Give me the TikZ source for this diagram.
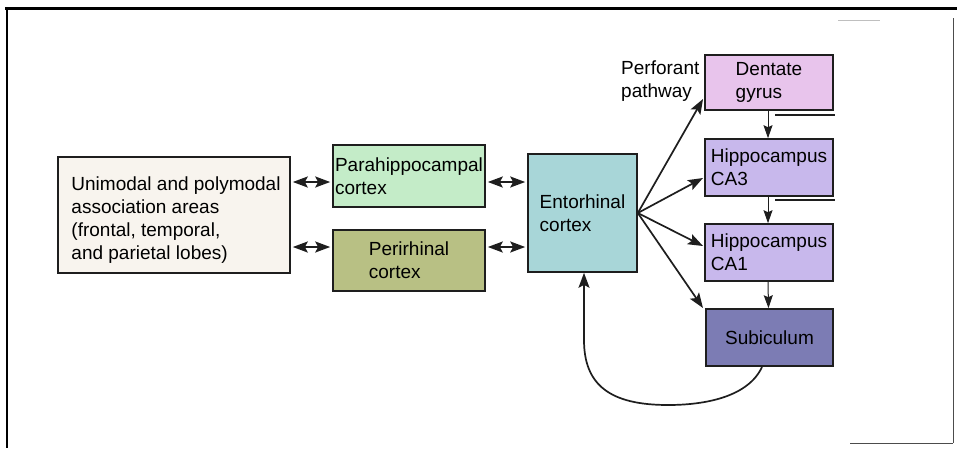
\documentclass[tikz,border=0pt]{standalone}
\usepackage{fontspec}
\setmainfont{Liberation Sans}
\usetikzlibrary{arrows.meta}
\definecolor{cUni}{HTML}{F8F4EE}
\definecolor{cPara}{HTML}{C4ECC8}
\definecolor{cPeri}{HTML}{B8C084}
\definecolor{cEnto}{HTML}{A8D6D8}
\definecolor{cDG}{HTML}{E8C4EC}
\definecolor{cCA}{HTML}{C8B8EC}
\definecolor{cSub}{HTML}{7C7CB4}
\definecolor{cLine}{HTML}{1E1E1E}
\tikzset{
  label text/.style={font=\fontsize{19}{23}\selectfont, align=left, inner sep=0pt},
  region/.style={draw=cLine, line width=1.6pt, inner sep=0pt, label text},
  dbl/.style={{Stealth[length=15pt,width=11pt,inset=3pt]}-{Stealth[length=15pt,width=11pt,inset=3pt]}, line width=2pt, cLine},
  one/.style={-{Stealth[length=15pt,width=11pt,inset=3pt]}, line width=1.7pt, cLine},
  step arrow/.style={-{Stealth[length=13pt,width=9pt,inset=2pt]}, line width=1pt, cLine},
}
\begin{document}
\begin{tikzpicture}[x=1pt,y=-1pt]
\useasboundingbox (0,0) rectangle (957,448);
\fill[white] (0,0) rectangle (957,448);

% frame
\draw[line width=3pt] (5,8) -- (957,8);
\draw[line width=2pt] (7,7) -- (7,448);
\draw[line width=0.8pt, black!70] (953,18) -- (953,443);
\draw[line width=0.8pt, black!70] (850,443) -- (953,443);
\draw[line width=1pt, black!25] (838,20) -- (880,20);

% cortical areas
\node[region, fill=cUni, minimum width=232pt, minimum height=116pt] (uni) at (174,215) {};
\node[label text] (unitext) at (176,220)
  {Unimodal and polymodal\\association areas\\(frontal, temporal,\\and parietal lobes)};
\node[region, fill=cPara, minimum width=152pt, minimum height=62pt] (para) at (409,176)
  {Parahippocampal\\cortex};
\node[region, fill=cPeri, minimum width=152pt, minimum height=61pt] (peri) at (409,260.5)
  {Perirhinal\\cortex};
\node[region, fill=cEnto, minimum width=109pt, minimum height=118pt] (ento) at (582.5,213)
  {Entorhinal\\cortex};

% hippocampal formation
\node[region, fill=cDG, minimum width=128pt, minimum height=55pt] (dg) at (769,82.5)
  {Dentate\\gyrus};
\node[region, fill=cCA, minimum width=128pt, minimum height=57pt] (ca3) at (769,167.5)
  {Hippocampus\\CA3};
\node[region, fill=cCA, minimum width=128pt, minimum height=57pt] (ca1) at (769,252.5)
  {Hippocampus\\CA1};
\node[region, fill=cSub, minimum width=127pt, minimum height=57pt] (sub) at (769.5,337.5)
  {Subiculum};

\node[label text, anchor=north west] (perf) at (621,61)
  {Perforant\\pathway};

% reciprocal cortical connections
\coordinate (pa) at ([yshift=-6pt]para.west);
\coordinate (pe) at ([yshift=13.5pt]peri.west);
\coordinate (pb) at ([yshift=-6pt]para.east);
\coordinate (pf) at ([yshift=13.5pt]peri.east);
\draw[dbl, shorten <=2pt, shorten >=2pt] (pa -| uni.east) -- (pa);
\draw[dbl, shorten <=2pt, shorten >=2pt] (pe -| uni.east) -- (pe);
\draw[dbl, shorten <=2pt, shorten >=2pt] (pb) -- (pb -| ento.west);
\draw[dbl, shorten <=2pt, shorten >=2pt] (pf) -- (pf -| ento.west);

% perforant pathway fan
\coordinate (src) at (ento.east);
\coordinate (tdg) at (703,99);
\coordinate (tca3) at (703,178);
\coordinate (tca1) at (703,246);
\coordinate (tsub) at (703,308);
\draw[one] (src) -- (tdg);
\draw[one] (src) -- (tca3);
\draw[one] (src) -- (tca1);
\draw[one] (src) -- (tsub);

% trisynaptic steps
\draw[step arrow] ([xshift=-1pt]dg.south) -- ([xshift=-1pt]ca3.north);
\draw[step arrow] ([xshift=-1pt]ca3.south) -- ([xshift=-1pt]ca1.north);
\draw[step arrow] ([xshift=-1pt]ca1.south) -- ([xshift=-1pt]sub.north);
\draw[line width=1.3pt, cLine] (775,115) -- (835,115);
\draw[line width=1.3pt, cLine] (775,200) -- (835,200);

% return projection from the subiculum
\coordinate (ret) at (762,367);
\coordinate (low) at (668,405);
\draw[one] (ret) .. controls (748,397) and (705,405) .. (low)
  .. controls (610,405) and (584,385) .. (584,340) -- (ento.south -| 584,0);
\end{tikzpicture}
\end{document}
